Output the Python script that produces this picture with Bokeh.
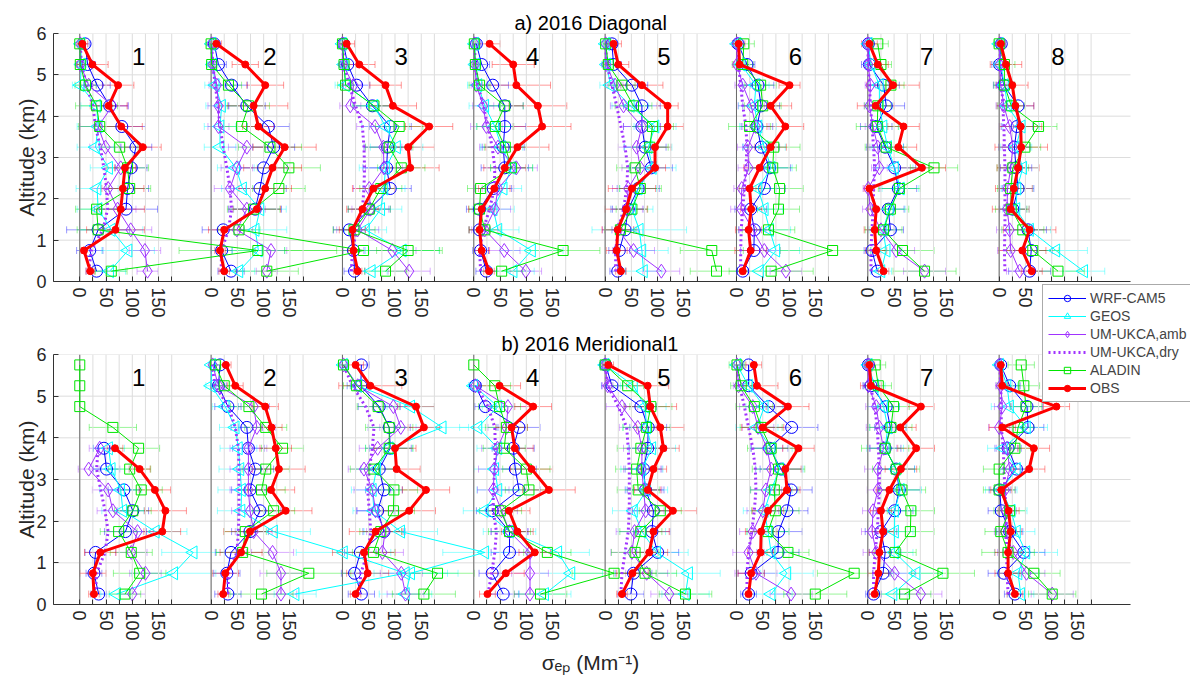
import numpy as np
from bokeh.plotting import figure
from bokeh.models import (ColumnDataSource, Whisker, TeeHead, Legend,
                          LegendItem, FixedTicker, Range1d)
from bokeh.layouts import column
from bokeh.embed import file_html
from bokeh.resources import INLINE
from bokeh.core.properties import value

nan = float("nan")

# ---------------- data ----------------
ALT = [0.25, 0.75, 1.25, 1.75, 2.25, 2.75, 3.25, 3.75, 4.25, 4.75, 5.25, 5.75]
PANEL_LABELS = ["1", "2", "3", "4", "5", "6", "7", "8"]
XTICKS = [0, 25, 50, 75, 100, 125, 150, 175]
XTICK_LABELS = {0: "0", 50: "50", 100: "100", 150: "150"}
YTICKS = [0, 1, 2, 3, 4, 5, 6]
SERIES = ["WRF-CAM5", "GEOS", "UM-UKCA,amb", "UM-UKCA,dry", "ALADIN", "OBS"]
TITLE_A = "a) 2016 Diagonal"
TITLE_B = "b) 2016 Meridional1"
XLABEL = "σₑₚ (Mm⁻¹)"
YLABEL = "Altitude (km)"

# a) 2016 Diagonal  (8 panels, values from 0.25 km upward)
A_WRF = [[32,19,35,88,91,98,107,80,57,33,15,10],
         [38,20,23,84,93,100,119,109,68,39,14,6],
         [23,21,13,51,91,84,86,91,57,27,10,2],
         [24,13,11,11,37,59,56,59,59,36,15,5],
         [24,27,38,44,63,88,76,70,70,51,16,13],
         [12,33,34,27,53,63,47,39,47,41,20,3],
         [18,8,43,39,58,51,33,16,35,30,3,1],
         [58,61,55,26,36,32,29,34,36,9,1,4]]
A_GEOS = [[57,92,60,35,33,55,30,35,32,1,3,2],
          [53,90,84,93,60,47,17,17,20,8,3,1],
          [55,114,44,73,79,82,103,82,60,6,3,0],
          [75,110,46,37,56,72,53,40,21,8,3,2],
          [73,70,65,51,63,90,82,95,48,10,3,1],
          [44,75,63,53,41,66,53,41,34,37,9,1],
          [25,35,29,41,62,51,38,29,22,22,6,1],
          [161,108,58,32,34,45,32,42,16,10,3,0]]
A_UMA = [[129,124,97,72,54,78,49,35,62,17,1,1],
         [106,114,49,68,36,49,68,14,14,11,3,1],
         [127,95,29,53,51,79,78,62,15,21,1,0],
         [99,58,21,40,46,81,46,24,18,5,2,1],
         [107,54,25,41,44,67,60,70,35,19,2,1],
         [94,53,31,9,10,23,22,37,28,12,1,1],
         [108,54,25,5,1,22,19,10,3,5,1,0],
         [39,22,20,15,16,22,26,20,9,3,1,1]]
A_UMD = [[17,22,44,53,51,46,39,30,25,13,3,1],
         [19,20,33,39,36,30,23,17,13,8,3,1],
         [17,19,27,38,41,42,41,38,25,13,3,0],
         [13,11,18,30,39,40,35,27,18,8,3,1],
         [20,20,25,35,41,43,38,30,22,13,3,1],
         [8,8,9,12,15,18,20,18,12,8,4,1],
         [6,6,8,10,11,13,11,8,5,3,1,0],
         [11,10,11,11,11,11,10,9,7,5,3,1]]
A_ALA = [[60,339,35,32,95,91,76,38,32,11,1,0],
         [106,290,53,81,129,148,112,58,71,33,1,0],
         [82,125,22,51,73,112,89,108,60,6,3,0],
         [53,170,21,11,13,72,60,41,59,11,3,1],
         [212,203,29,51,67,57,85,90,54,32,6,1],
         [66,183,61,80,82,69,71,25,50,46,12,14],
         [108,66,30,43,60,126,35,18,19,44,25,19],
         [112,64,45,23,22,26,49,75,23,10,10,0]]
A_OBS = [[20,8,68,78,82,86,120,79,55,73,24,5],
         [25,17,25,87,103,117,140,90,81,103,65,10],
         [29,21,19,38,59,129,125,165,96,82,32,8],
         [29,15,11,15,39,59,83,130,122,81,75,30],
         [30,22,24,40,51,95,95,119,119,70,25,16],
         [12,27,23,28,25,44,65,93,65,101,6,4],
         [30,16,13,16,3,103,58,68,15,48,19,3],
         [62,44,58,22,28,36,42,41,31,25,13,3]]

# a) error bar half-widths
A_WRF_E = [[20,25,60,60,40,30,30,45,35,25,15,8],
           [25,20,40,50,50,45,40,40,35,30,15,8],
           [20,20,30,40,40,45,45,40,35,25,15,8],
           [20,15,20,25,35,45,40,40,35,30,15,8],
           [15,20,25,30,40,40,40,35,35,30,15,8],
           [10,25,30,30,40,40,35,30,35,30,15,8],
           [10,15,25,30,35,40,35,30,35,30,15,8],
           [40,40,35,25,30,30,30,30,30,20,15,8]]
A_GEOS_E = [[30,50,60,40,40,35,35,40,30,15,10,5],
            [30,50,60,50,40,35,30,30,30,20,10,5],
            [30,70,40,40,40,50,50,45,40,20,10,5],
            [40,60,40,40,35,40,40,35,30,20,10,5],
            [35,50,90,40,35,45,45,40,35,20,10,5],
            [30,45,40,35,35,40,40,35,30,25,10,5],
            [20,30,25,30,35,35,30,30,25,20,10,5],
            [40,60,40,25,30,30,30,35,20,15,10,5]]
A_UMA_E = [[20,30,40,35,30,30,30,35,30,15,5,3],
           [20,30,30,35,30,30,35,20,20,15,5,3],
           [40,45,40,35,30,35,35,35,20,15,5,3],
           [30,30,25,30,30,40,35,30,20,10,5,3],
           [35,40,30,30,30,35,35,35,25,15,5,3],
           [30,30,25,20,15,20,20,25,25,15,5,3],
           [40,35,25,15,10,15,15,15,10,10,5,3],
           [25,25,25,15,15,20,20,20,15,10,5,3]]
A_ALA_E = [[30,150,40,40,40,40,35,40,40,20,5,3],
           [60,150,40,50,50,60,60,40,40,25,5,3],
           [40,60,40,40,40,45,45,45,40,15,5,3],
           [40,70,30,20,25,40,40,35,35,20,5,3],
           [50,60,30,30,40,35,35,40,35,25,10,5],
           [80,100,50,40,45,45,50,40,35,30,20,20],
           [60,60,35,35,40,45,40,40,25,25,20,20],
           [50,50,40,30,25,30,30,35,25,20,20,10]]
A_OBS_E = [[8,5,55,45,40,20,35,40,35,30,30,10],
           [10,10,30,45,50,55,60,30,65,35,25,10],
           [8,10,25,30,40,55,50,45,45,30,30,15],
           [10,15,20,25,30,40,60,55,55,65,40,20],
           [10,20,30,40,45,20,30,30,20,40,20,15],
           [5,30,25,20,20,30,30,35,40,20,12,12],
           [10,20,20,15,10,45,35,30,35,50,20,15],
           [20,45,50,35,35,40,50,40,35,30,30,8]]

# b) 2016 Meridional1
B_WRF = [[36,27,30,87,101,84,51,46,nan,nan,nan,nan],
         [32,30,38,74,93,74,84,71,68,32,14,17],
         [36,23,34,79,67,79,70,91,89,70,35,36],
         [56,35,68,68,35,86,79,75,86,22,3,nan],
         [49,54,100,89,92,77,73,81,82,68,13,1],
         [23,28,79,80,96,104,85,63,105,61,23,23],
         [11,29,33,25,51,60,54,33,43,35,6,1],
         [30,9,47,20,4,1,33,17,55,53,20,3]]
B_GEOS = [[70,179,216,144,82,78,60,55,nan,nan,nan,nan],
          [160,370,252,119,57,58,55,52,46,27,0,1],
          [120,130,271,111,60,57,65,89,190,130,29,2],
          [135,185,160,68,20,46,40,46,8,46,0,nan],
          [153,159,98,70,54,79,70,89,79,76,54,0],
          [66,96,66,60,53,66,82,66,39,53,23,1],
          [48,92,51,51,51,62,54,33,38,30,13,1],
          [41,36,51,33,23,4,33,8,52,20,15,1]]
B_UMA = [[100,125,98,110,63,54,17,38,nan,nan,nan,nan],
         [133,133,117,81,74,71,71,71,87,81,14,3],
         [120,112,76,81,63,57,41,67,111,97,29,2],
         [107,107,107,68,53,37,39,45,62,65,3,nan],
         [122,79,51,56,77,73,70,70,62,32,5,0],
         [104,37,23,31,50,56,66,58,41,31,4,1],
         [101,51,16,8,10,19,19,30,22,16,1,1],
         [101,52,27,11,13,11,20,15,0,6,3,1]]
B_UMD = [[30,32,48,54,48,40,32,35,nan,nan,nan,nan],
         [32,33,49,52,53,53,53,52,46,33,8,1],
         [32,35,48,54,51,48,51,57,60,44,19,2],
         [27,34,40,43,37,37,40,41,40,27,5,nan],
         [30,32,38,44,46,46,46,44,41,25,5,0],
         [20,20,23,29,34,37,36,31,23,15,6,1],
         [11,11,14,18,20,22,22,20,18,13,5,1],
         [17,15,14,14,13,11,9,8,4,4,3,1]]
B_ALA = [[86,114,98,74,101,117,95,112,63,0,0,0],
         [96,186,60,65,119,96,104,136,104,72,25,8],
         [155,181,59,73,97,98,60,89,89,68,27,2],
         [127,267,140,68,51,105,100,58,62,49,40,0],
         [153,76,57,68,105,63,60,68,79,87,43,0],
         [150,224,98,60,74,72,80,66,47,34,9,1],
         [70,143,52,81,82,65,54,33,44,49,20,14],
         [101,66,17,3,20,0,0,30,36,51,47,42]]
B_OBS = [[27,25,39,157,163,143,114,67,nan,nan,nan,nan],
         [23,27,57,74,142,114,129,123,115,103,46,28],
         [25,48,41,63,127,159,103,100,155,140,53,25],
         [26,61,116,83,67,143,110,78,72,113,49,nan],
         [32,52,84,92,129,81,92,111,105,86,81,6],
         [23,28,46,47,60,96,93,118,50,98,39,33],
         [13,20,22,29,25,41,63,92,62,101,6,3],
         [30,17,17,22,18,4,57,66,6,109,6,3]]

# b) error bar half-widths
B_WRF_E = [[15,15,20,40,30,30,25,20,0,0,0,0],
           [25,25,30,35,40,35,35,30,30,25,15,10],
           [25,25,30,40,40,35,35,40,40,40,20,15],
           [30,25,35,35,30,40,40,40,40,20,10,0],
           [25,35,40,35,40,35,35,35,35,30,20,5],
           [15,25,40,45,40,40,40,35,50,30,20,15],
           [15,20,30,30,35,40,35,30,30,25,15,5],
           [20,30,40,25,25,20,25,25,30,30,20,5]]
B_GEOS_E = [[30,80,60,60,40,40,35,30,0,0,0,0],
            [40,100,90,70,45,45,40,35,30,25,10,5],
            [50,70,80,70,40,40,40,45,50,45,20,5],
            [50,60,60,50,40,40,40,40,35,30,10,0],
            [45,60,60,45,40,40,40,45,45,40,25,5],
            [40,50,40,40,40,40,45,40,40,35,20,5],
            [30,50,35,35,40,40,35,35,35,30,20,5],
            [25,40,60,35,30,30,30,30,40,35,20,5]]
B_UMA_E = [[25,30,30,30,30,30,20,20,0,0,0,0],
           [30,40,40,35,35,35,35,35,35,30,10,5],
           [35,40,40,35,35,35,30,35,40,40,20,5],
           [30,35,40,35,30,30,30,30,35,35,10,0],
           [35,40,40,35,35,35,35,35,35,30,10,5],
           [40,40,30,25,30,30,30,30,30,25,10,5],
           [40,40,25,20,20,20,25,25,25,20,10,5],
           [40,35,30,20,20,20,20,20,20,15,10,5]]
B_ALA_E = [[30,50,40,35,35,40,40,40,45,0,0,0],
           [60,80,50,40,40,45,45,40,40,35,20,10],
           [60,70,40,40,40,45,45,45,45,40,25,10],
           [50,80,45,40,40,45,45,40,40,40,30,0],
           [50,60,45,40,40,40,40,45,45,40,30,10],
           [60,70,40,40,45,45,50,45,40,35,20,15],
           [50,60,40,45,45,45,45,45,40,30,25,20],
           [45,50,50,30,30,30,30,30,30,30,30,25]]
B_OBS_E = [[10,25,30,35,40,30,20,15,0,0,0,0],
           [10,25,40,50,50,45,50,30,20,25,15,10],
           [10,40,60,50,50,45,45,40,30,35,60,15],
           [15,35,30,30,40,50,40,35,30,35,40,0],
           [10,30,35,30,45,25,25,30,45,50,40,10],
           [5,25,25,30,30,25,30,30,40,40,40,15],
           [10,20,20,20,20,25,30,35,30,25,20,10],
           [15,25,25,20,20,20,30,30,25,25,10,5]]

# ---------------- layout / style ----------------
STEP = 250                 # horizontal offset between panels
XLIM = (-50, 2000)         # data extent of the panel block
W = 1190                   # canvas width
LEFT = 53                  # left border (px)
PX_PER_X = 1077 / 2050     # frame pixels per x unit
XR = (XLIM[0], XLIM[0] + (W - LEFT) / PX_PER_X)   # frame reaches the right edge
FONT = "Liberation Sans"
C_WRF, C_GEOS, C_UM, C_ALA, C_OBS = "#0000ff", "#00ffff", "#a033ff", "#00e600", "#ff0000"
GRID_C = "#dddddd"
ZERO_C = "#6a6a6a"
AX_C = "#333333"

STYLE = {
    SERIES[0]: dict(color=C_WRF, lw=1, dash="solid", marker="circle", size=12, fill=None, angle=0),
    SERIES[1]: dict(color=C_GEOS, lw=1, dash="solid", marker="triangle", size=13, fill=None, angle=np.pi / 2),
    SERIES[2]: dict(color=C_UM, lw=1, dash="solid", marker="diamond", size=14, fill=None, angle=0),
    SERIES[3]: dict(color=C_UM, lw=3, dash="2 3", marker=None, size=0, fill=None, angle=0),
    SERIES[4]: dict(color=C_ALA, lw=1, dash="solid", marker="square", size=10, fill=None, angle=0),
    SERIES[5]: dict(color=C_OBS, lw=3, dash="solid", marker="circle", size=7, fill=C_OBS, angle=0),
}
TICKS = [k * STEP + t for k in range(len(PANEL_LABELS)) for t in XTICKS]
OVERRIDES = {k * STEP + t: XTICK_LABELS.get(t, "")
             for k in range(len(PANEL_LABELS)) for t in XTICKS}


def series_xy(vals2d):
    xs, ys = [], []
    for k, vals in enumerate(vals2d):
        for a, v in zip(ALT, vals):
            xs.append(v + k * STEP)
            ys.append(a)
        xs.append(nan)
        ys.append(nan)
    return np.array(xs, dtype=float), np.array(ys, dtype=float)


def add_err(p, vals2d, errs2d, color):
    ys, lo, hi = [], [], []
    for k, (vals, errs) in enumerate(zip(vals2d, errs2d)):
        for a, v, e in zip(ALT, vals, errs):
            if np.isfinite(v) and e > 0:
                ys.append(a)
                lo.append(v + k * STEP - e)
                hi.append(v + k * STEP + e)
    src = ColumnDataSource(dict(y=ys, lo=lo, hi=hi))
    w = Whisker(source=src, base="y", lower="lo", upper="hi", dimension="width",
                line_color=color, line_alpha=0.4, line_width=1, level="underlay",
                upper_head=TeeHead(size=7, line_color=color, line_alpha=0.4, line_width=1),
                lower_head=TeeHead(size=7, line_color=color, line_alpha=0.4, line_width=1))
    p.add_layout(w)


def draw_series(p, name, vals2d):
    st = STYLE[name]
    x, y = series_xy(vals2d)
    rs = [p.line(x, y, line_color=st["color"], line_width=st["lw"], line_dash=st["dash"])]
    if st["marker"]:
        rs.append(p.scatter(x, y, marker=st["marker"], size=st["size"], angle=st["angle"],
                            fill_color=st["fill"], line_color=st["color"], line_width=1))
    return rs


def make_row(title, title_offset, series, errs, height, top, bottom):
    p = figure(width=W, height=height, x_range=Range1d(*XR), y_range=Range1d(0, 6),
               output_backend="svg", toolbar_location=None, title=title,
               min_border_left=LEFT, min_border_right=0, min_border_top=top,
               min_border_bottom=bottom)
    p.title.text_font = FONT
    p.title.text_font_size = "20px"
    p.title.text_font_style = "normal"
    p.title.text_color = "black"
    p.title.align = "left"
    p.title.offset = title_offset
    p.title.standoff = 0
    p.outline_line_color = None
    p.border_fill_color = None
    p.background_fill_color = None
    p.xgrid.visible = False
    p.ygrid.visible = False

    p.xaxis.ticker = FixedTicker(ticks=TICKS)
    p.xaxis.major_label_overrides = OVERRIDES
    p.xaxis.major_label_orientation = "vertical"
    p.yaxis.ticker = FixedTicker(ticks=YTICKS)
    for ax in (p.xaxis, p.yaxis):
        ax.major_tick_in = 5
        ax.major_tick_out = 0
        ax.minor_tick_line_color = None
        ax.axis_line_color = AX_C
        ax.major_tick_line_color = AX_C
        ax.major_label_text_font = FONT
        ax.major_label_text_font_size = "18px"
        ax.major_label_text_color = "#262626"
        ax.axis_label_text_font = FONT
        ax.axis_label_text_font_style = "normal"
        ax.axis_label_text_color = "#262626"
        ax.axis_label_text_font_size = "21px"
    p.xaxis.bounds = XLIM
    p.xaxis.major_label_standoff = 6
    p.yaxis.major_label_standoff = 7
    p.yaxis.axis_label = YLABEL
    p.yaxis.axis_label_standoff = -5

    # grid lines limited to the panel block
    p.segment(x0=TICKS, y0=[YTICKS[0]] * len(TICKS), x1=TICKS, y1=[YTICKS[-1]] * len(TICKS),
              line_color=GRID_C, line_width=1)
    p.segment(x0=[XLIM[0]] * len(YTICKS), y0=YTICKS, x1=[XLIM[1]] * len(YTICKS), y1=YTICKS,
              line_color=GRID_C, line_width=1)
    zeros = [k * STEP for k in range(len(PANEL_LABELS))]
    p.segment(x0=zeros, y0=[YTICKS[0]] * len(zeros), x1=zeros, y1=[YTICKS[-1]] * len(zeros),
              line_color=ZERO_C, line_width=1)

    for name in (SERIES[0], SERIES[1], SERIES[2], SERIES[4], SERIES[5]):
        add_err(p, series[name], errs[name], STYLE[name]["color"])
    for name in SERIES:
        draw_series(p, name, series[name])

    src = ColumnDataSource(dict(x=[k * STEP + 112 for k in range(len(PANEL_LABELS))],
                                y=[5.45] * len(PANEL_LABELS), t=PANEL_LABELS))
    p.text(x="x", y="y", text="t", source=src, text_font=value(FONT),
           text_font_size="24px", text_align="center", text_baseline="middle",
           text_color="black")
    return p


series_a = dict(zip(SERIES, [A_WRF, A_GEOS, A_UMA, A_UMD, A_ALA, A_OBS]))
errs_a = {SERIES[0]: A_WRF_E, SERIES[1]: A_GEOS_E, SERIES[2]: A_UMA_E,
          SERIES[4]: A_ALA_E, SERIES[5]: A_OBS_E}
series_b = dict(zip(SERIES, [B_WRF, B_GEOS, B_UMA, B_UMD, B_ALA, B_OBS]))
errs_b = {SERIES[0]: B_WRF_E, SERIES[1]: B_GEOS_E, SERIES[2]: B_UMA_E,
          SERIES[4]: B_ALA_E, SERIES[5]: B_OBS_E}

p1 = make_row(TITLE_A, 461, series_a, errs_a, height=338, top=33, bottom=57)
p2 = make_row(TITLE_B, 448, series_b, errs_b, height=365, top=70, bottom=45)
p2.margin = (-54, 0, 0, 0)

# x-axis title in its own strip, positioned in data units so it centres on the panels
p4 = figure(width=W, height=33, x_range=Range1d(*XR), y_range=Range1d(0, 1),
            output_backend="svg", toolbar_location=None, title=None,
            x_axis_type=None, y_axis_type=None,
            min_border_left=LEFT, min_border_right=0, min_border_top=0, min_border_bottom=0)
p4.outline_line_color = None
p4.border_fill_color = None
p4.background_fill_color = None
p4.xgrid.visible = False
p4.ygrid.visible = False
p4.text(x=[(XLIM[0] + XLIM[1]) / 2 - 3], y=[0.6], text=[XLABEL], text_font=value(FONT),
        text_font_size="21px", text_align="center", text_baseline="middle",
        text_color="#262626")

# legend in a small canvas laid over the top-right corner of row b; its renderers carry
# the row-b series but the canvas range keeps them out of view (only the key is shown)
LEG_W = 148
p3 = figure(width=LEFT + LEG_W, height=124, output_backend="svg", toolbar_location=None,
            x_range=Range1d(-20, -10), y_range=Range1d(-20, -10),
            x_axis_type=None, y_axis_type=None, title=None,
            min_border_left=LEFT, min_border_right=0, min_border_top=0, min_border_bottom=0)
p3.outline_line_color = None
p3.border_fill_color = None
p3.background_fill_color = None
p3.xgrid.visible = False
p3.ygrid.visible = False
items = [LegendItem(label=name, renderers=draw_series(p3, name, series_b[name]))
         for name in SERIES]
lg = Legend(items=items, location="top_left", label_text_font=FONT,
            label_text_font_size="14px", glyph_width=38, glyph_height=16,
            spacing=2, padding=5, margin=0, label_standoff=4,
            border_line_color="#555555", border_line_width=1,
            background_fill_color="white", background_fill_alpha=1)
p3.add_layout(lg)
p3.margin = (-398, 0, 274, 1042 - LEFT)

layout = column(p1, p2, p4, p3, spacing=0)
open("out.html", "w").write(file_html(layout, INLINE))
